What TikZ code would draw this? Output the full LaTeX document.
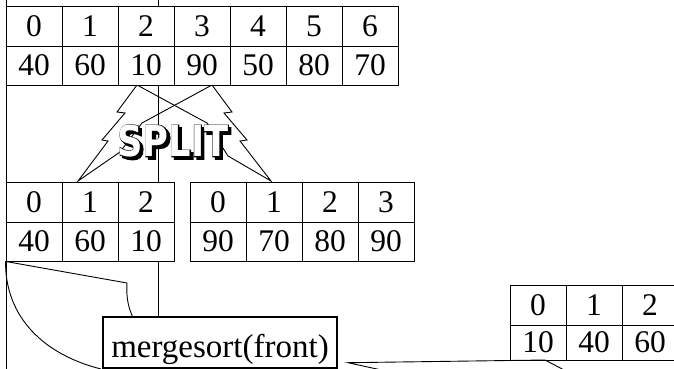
\documentclass[tikz,border=0pt]{standalone}
\usepackage{fontspec}
\usepackage{graphicx}
\setmainfont{Liberation Serif}
\newfontfamily\splitfont{DejaVu Sans}
\newfontfamily\splitfontfat{DejaVu Sans}[FakeBold=4]
\usetikzlibrary{calc}
\tikzset{
  cell/.style={draw, fill=white, minimum width=56, inner sep=0, line width=0.9pt,
    font=\fontsize{31.5}{36}\selectfont},
  splitstyle/.style={inner sep=0, font=\splitfont\bfseries\fontsize{42.5}{50}\selectfont},
  splitfat/.style={inner sep=0, font=\splitfontfat\bfseries\fontsize{42.5}{50}\selectfont},
  thin line/.style={line width=0.9pt},
}
\newcommand\mytable[6]{%
  \foreach \k/\v [count=\i from 0] in {#6} {
    \node[cell, minimum height={#4-#3}] (#1h\i) at ({#2+28+56*\i},{(#3+#4)/2}) {\k};
    \node[cell, minimum height={#5-#4}] (#1v\i) at ({#2+28+56*\i},{(#4+#5)/2}) {\v};
  }}
\begin{document}
\begin{tikzpicture}[x=1pt, y=-1pt, line join=miter]
\useasboundingbox (0,0) rectangle (674,369);
\clip (0,0) rectangle (674,369);
% background vertical lines
\coordinate (lt) at (6,0); \coordinate (lb) at (6,372);
\coordinate (mt) at (158,0); \coordinate (mb) at (158,372);
\draw[thin line] (lt) -- (lb);
\draw[thin line] (mt) -- (mb);
% split bolts
\draw[thin line] (137,85) -- (117,112) -- (125,113) -- (102,140) -- (108,141) -- (78,181)
   -- (120,152) -- (142,123) -- (212,85);
\draw[thin line] (212,85) -- (232,112) -- (224,113) -- (247,140) -- (240,141) -- (271,181)
   -- (228,156) -- (207,123) -- (137,85);
% SPLIT lettering (shadow, outline, white face)
\node[splitfat, text=black] (splitshadow) at (175.5,143.5) {\scalebox{0.83}[1]{SPLIT}};
\node[splitfat, text=black] (splitrim) at (173,141) {\scalebox{0.83}[1]{SPLIT}};
\node[splitstyle, text=white] (split) at (173,141) {\scalebox{0.83}[1]{SPLIT}};
% tables
\mytable{a}{6}{6}{46}{85}{0/40,1/60,2/10,3/90,4/50,5/80,6/70}
\mytable{b}{6}{182}{222}{261}{0/40,1/60,2/10}
\mytable{c}{190}{182}{222}{261}{0/90,1/70,2/80,3/90}
\mytable{d}{510}{285}{325}{360}{0/10,1/40,2/60}
% left callout
\coordinate (p1) at (127,283);
\coordinate (p2) at (133,318);
\coordinate (p3) at (101,369);
\draw[thin line] (bv0.south west) -- (p1) .. controls (126,300) and (129,308) .. (p2);
\draw[thin line] (bv0.south west) .. controls (5,318) and (45,355) .. (p3);
% mergesort box
\node[draw, fill=white, line width=2.5pt, minimum width=234, minimum height=51, inner sep=0,
      text height=36, text depth=5.6, font=\fontsize{33}{40}\selectfont] (ms) at (220,342.5) {mergesort(front)};
% right callout
\coordinate (q0) at (348,362.7);
\coordinate (q1) at (545,360);
\coordinate (q2) at (566,371);
\coordinate (q3) at (386,371);
\draw[thin line] (q3) -- (q0) -- (q1) -- (q2);
\end{tikzpicture}
\end{document}
